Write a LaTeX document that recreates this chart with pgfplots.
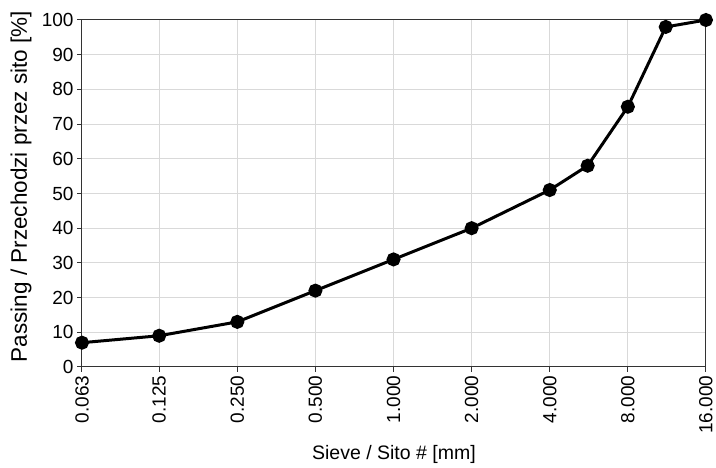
\documentclass[border=0pt]{standalone}
\usepackage{pgfplots}
\pgfplotsset{compat=1.18}
\usepackage{fontspec}
\setmainfont{Liberation Sans}
\begin{document}
\begin{tikzpicture}[x=1bp,y=1bp]
\begin{axis}[
  scale only axis,
  width=624bp, height=347bp,
  xmode=log, log basis x=2,
  xmin=0.063, xmax=16,
  ymin=0, ymax=100,
  xtick={0.063,0.125,0.25,0.5,1,2,4,8,16},
  xticklabels={0.063,0.125,0.250,0.500,1.000,2.000,4.000,8.000,16.000},
  ytick={0,10,...,100},
  xticklabel style={rotate=90, anchor=east},
  /pgf/number format/assume math mode=true,
  tick label style={font=\fontsize{19bp}{22bp}\selectfont},
  xlabel style={font=\fontsize{19.5bp}{22bp}\selectfont},
  ylabel style={font=\fontsize{22.5bp}{26bp}\selectfont},
  grid=major,
  major grid style={draw=black!15, line width=1bp},
  axis line style={draw=black!80, line width=1bp},
  tick style={draw=black!80, line width=1bp},
  tick align=outside,
  major tick length=5bp,
  xtick pos=bottom, ytick pos=left,
  xlabel={Sieve / Sito \# [mm]},
  ylabel={Passing / Przechodzi przez sito [\%]},
  xlabel style={at={(axis description cs:0.5,0)}, anchor=base, yshift=-93bp},
  ylabel style={at={(axis description cs:0,0.5)}, anchor=base, yshift=55bp, xshift=7bp},
  clip=false,
]
\addplot[black, line width=3bp, mark=*, mark size=5.5bp, mark options={fill=black}] coordinates {
  (0.063,7) (0.125,9) (0.25,13) (0.5,22) (1,31) (2,40) (4,51) (5.6,58) (8,75) (11.2,98) (16,100)
};
\end{axis}
\path (current axis.south west) ++(-82bp,-98bp) coordinate (bl);
\path (current axis.north east) ++(10bp,20bp) coordinate (tr);
\path (bl) rectangle (tr);
\end{tikzpicture}
\end{document}
